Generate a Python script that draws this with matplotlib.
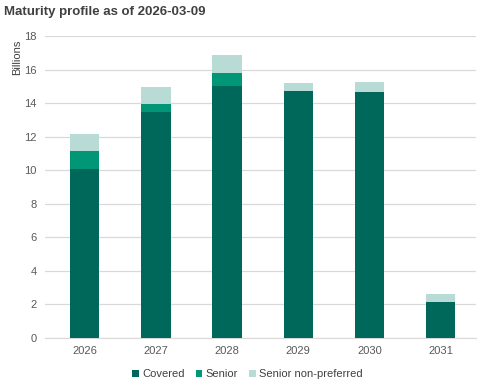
import matplotlib.pyplot as plt
import numpy as np

plt.rcParams['font.family'] = ['Liberation Sans', 'DejaVu Sans']

years = ["2026", "2027", "2028", "2029", "2030", "2031"]
covered = [10.07, 13.47, 15.02, 14.72, 14.66, 2.15]
senior = [1.07, 0.48, 0.78, 0.0, 0.0, 0.0]
snp = [1.02, 1.01, 1.07, 0.48, 0.60, 0.47]
series_names = ["Covered", "Senior", "Senior non-preferred"]
colors = ["#00685A", "#009676", "#B8DCD5"]

fig = plt.figure(figsize=(4.88, 3.88), dpi=100)
ax = fig.add_axes([45/488, 1-338/388, (476-45)/488, (338-36)/388])

x = np.arange(len(years))
w = 0.41
b1 = np.array(covered)
b2 = b1 + np.array(senior)
ax.bar(x, covered, w, color=colors[0], label=series_names[0], zorder=3)
ax.bar(x, senior, w, bottom=b1, color=colors[1], label=series_names[1], zorder=3)
ax.bar(x, snp, w, bottom=b2, color=colors[2], label=series_names[2], zorder=3)

ax.set_ylim(0, 18)
ax.set_yticks(range(0, 19, 2))
ax.set_xlim(-0.56, 5.5)
ax.set_xticks(x)
ax.set_xticklabels(years)
ax.grid(axis="y", color="#D9D9D9", linewidth=0.9, zorder=0)
for s in ["top", "right", "left"]:
    ax.spines[s].set_visible(False)
ax.spines["bottom"].set_color("#D9D9D9")
ax.tick_params(axis="both", length=0, labelsize=8, colors="#595959", pad=6)
ax.tick_params(axis="y", pad=6)

fig.text(4/488, 1-12/388, "Maturity profile as of 2026-03-09", fontsize=9.5, fontweight="bold",
         color="#404040", va="center", ha="left")
fig.text(17/488, 1-57/388, "Billions", rotation=90, fontsize=8, color="#404040", va="center", ha="center")

leg = ax.legend(loc="upper center", bbox_to_anchor=(0.47, -0.07), ncol=3, frameon=False,
                fontsize=8, handlelength=0.6, handleheight=0.6, handletextpad=0.3,
                columnspacing=1.0, labelcolor="#404040")

fig.savefig("out.png", dpi=100)
